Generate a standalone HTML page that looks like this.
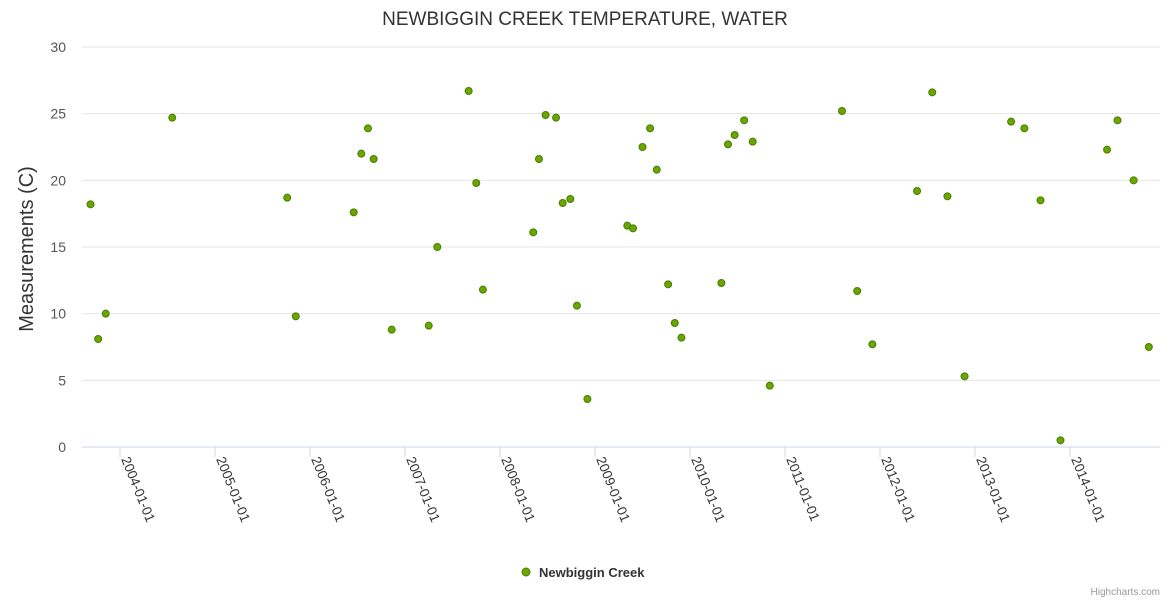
<!DOCTYPE html>
<html><head><meta charset="utf-8"><style>
html,body{margin:0;padding:0;background:#fff;}
svg{display:block;font-family:"Liberation Sans",sans-serif;}
</style></head><body>
<svg id="chart" width="1170" height="600" viewBox="0 0 1170 600" xmlns="http://www.w3.org/2000/svg">
<text x="585" y="25" text-anchor="middle" font-size="19" fill="#333">NEWBIGGIN CREEK TEMPERATURE, WATER</text>
<text transform="translate(33,249) rotate(-90)" text-anchor="middle" font-size="20" fill="#333">Measurements (C)</text>
<g id="grid"></g>
<g id="yticks"></g>
<g id="xticks"></g>
<g id="points"></g>
<g>
<circle cx="526" cy="572" r="4" fill="#6aa500" stroke="#4a7d00" stroke-width="1"/>
<text x="539" y="577" font-size="13" font-weight="bold" fill="#333">Newbiggin Creek</text>
</g>
<text x="1160" y="595" text-anchor="end" font-size="10" fill="#999">Highcharts.com</text>
</svg>
<script>
const yTicks = [0,5,10,15,20,25,30];
const xTickYears = [2004,2005,2006,2007,2008,2009,2010,2011,2012,2013,2014];
const xTickLabels = ["2004-01-01","2005-01-01","2006-01-01","2007-01-01","2008-01-01","2009-01-01","2010-01-01","2011-01-01","2012-01-01","2013-01-01","2014-01-01"];
const dates = [2003.69,2003.77,2003.85,2004.55,2005.76,2005.85,2006.46,2006.54,2006.61,2006.67,2006.86,2007.25,2007.34,2007.67,2007.75,2007.82,2008.35,2008.41,2008.48,2008.59,2008.66,2008.74,2008.81,2008.92,2009.34,2009.40,2009.50,2009.58,2009.65,2009.77,2009.84,2009.91,2010.33,2010.40,2010.47,2010.57,2010.66,2010.84,2011.60,2011.76,2011.92,2012.39,2012.55,2012.71,2012.89,2013.38,2013.52,2013.69,2013.90,2014.39,2014.50,2014.67,2014.83];
const temps = [18.2,8.1,10.0,24.7,18.7,9.8,17.6,22.0,23.9,21.6,8.8,9.1,15.0,26.7,19.8,11.8,16.1,21.6,24.9,24.7,18.3,18.6,10.6,3.6,16.6,16.4,22.5,23.9,20.8,12.2,9.3,8.2,12.3,22.7,23.4,24.5,22.9,4.6,25.2,11.7,7.7,19.2,26.6,18.8,5.3,24.4,23.9,18.5,0.5,22.3,24.5,20.0,7.5];
const NS='http://www.w3.org/2000/svg';
const L=82,R=1160,T=47,B=447;
const yS=v=>B-(v/30)*(B-T);
const xS=d=>120+(d-2004)*95;
function mk(tag,attrs,parent){const e=document.createElementNS(NS,tag);for(const k in attrs)e.setAttribute(k,attrs[k]);parent.appendChild(e);return e;}
const grid=document.getElementById('grid'),yt=document.getElementById('yticks'),xt=document.getElementById('xticks'),pts=document.getElementById('points');
yTicks.forEach(v=>{
  const ln=mk('line',{x1:L,x2:R,y1:yS(v),y2:yS(v),stroke:v===0?'#ccd6eb':'#e6e6e6','stroke-width':1},grid);
  
  
  const t=mk('text',{x:66,y:yS(v)+5,'text-anchor':'end','font-size':14,fill:'#555'},yt);
  t.textContent=v;
  
  
});
xTickYears.forEach((yr,i)=>{
  const x=xS(yr);
  const tk=mk('line',{x1:x,x2:x,y1:B,y2:B+10,stroke:'#ccd6eb'},grid);
  
  
  const t=mk('text',{transform:`translate(${x+1},${B+12}) rotate(68)`,'font-size':13.5,fill:'#333'},xt);
  t.textContent=xTickLabels[i];
  
  
});
dates.forEach((d,i)=>{
  const c=mk('circle',{cx:xS(d),cy:yS(temps[i]),r:3.5,fill:'#6aa500',stroke:'#4a7d00','stroke-width':1},pts);
  
  
});
</script>
</body></html>
